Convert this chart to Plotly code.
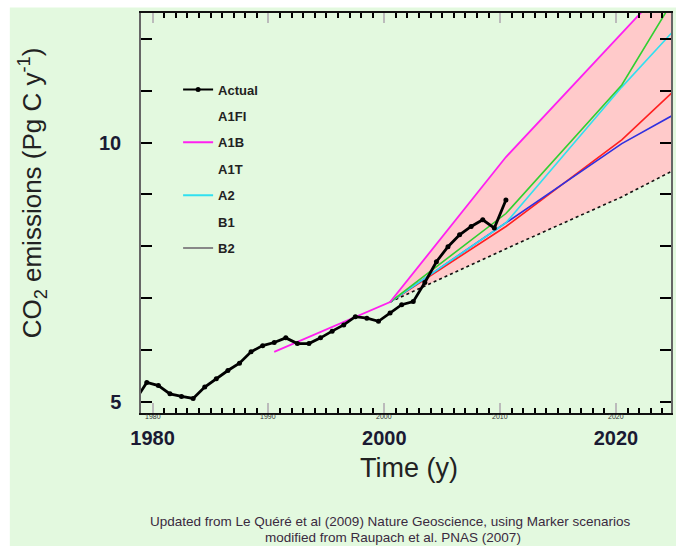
import plotly.graph_objects as go

# ---- data ----
actual_years = [1978, 1979, 1980, 1981, 1982, 1983, 1984, 1985, 1986, 1987, 1988, 1989,
                1990, 1991, 1992, 1993, 1994, 1995, 1996, 1997, 1998, 1999, 2000, 2001,
                2002, 2003, 2004, 2005, 2006, 2007, 2008, 2009, 2010]
actual_vals = [5.02, 5.37, 5.31, 5.15, 5.10, 5.06, 5.28, 5.44, 5.60, 5.74, 5.96, 6.08,
               6.14, 6.23, 6.12, 6.12, 6.23, 6.36, 6.48, 6.64, 6.61, 6.55, 6.71, 6.87,
               6.93, 7.30, 7.70, 7.99, 8.22, 8.38, 8.51, 8.35, 8.89]

scen_years = [1990, 2000, 2010, 2020, 2030]
a1b = [5.96, 6.92, 9.72, 12.12, 14.50]
a1fi = [None, 6.92, 8.63, 11.11, 14.80]
a2 = [None, 6.92, 8.45, 11.07, 13.50]
a1t = [None, 6.92, 8.38, 10.05, 12.15]
b1 = [None, 6.92, 8.45, 9.98, 11.22]
b2 = [None, 6.92, 7.95, 8.95, 10.10]

x_major = [1980, 1990, 2000, 2010, 2020]
x_major_text = ["<b>1980</b>", " ", "<b>2000</b>", " ", "<b>2020</b>"]
y_major = [5, 10]
y_major_text = ["<b>5</b>", "<b>10</b>"]

MID = 0.5  # annual values plotted at mid-year

BG = "#E3F9DF"
fig = go.Figure()

def mx(years):
    return [y + MID for y in years]

# fan fill between A1B (upper) and B2 (lower), from 2000
fx = [y + MID for y, v in zip(scen_years, b2) if v is not None]
fy_lo = [v for v in b2 if v is not None]
fy_hi = [h for h, v in zip(a1b, b2) if v is not None]
fig.add_trace(go.Scatter(x=fx + fx[::-1], y=fy_hi + fy_lo[::-1], fill="toself",
                         fillcolor="#FFCACA", line=dict(width=0), mode="lines",
                         showlegend=False, hoverinfo="skip"))

def legend_dummy(name, color):
    fig.add_trace(go.Scatter(x=[None], y=[None], mode="lines", name="<b>%s</b>" % name,
                             line=dict(color=color, width=2), legendgroup=name))

# scenario lines
fig.add_trace(go.Scatter(x=mx(scen_years), y=b2, mode="lines", line=dict(color="#111", width=1.6, dash="dot"),
                         showlegend=False))
fig.add_trace(go.Scatter(x=mx(scen_years), y=a1t, mode="lines", line=dict(color="#FF2020", width=1.6),
                         showlegend=False))
fig.add_trace(go.Scatter(x=mx(scen_years), y=b1, mode="lines", line=dict(color="#3030E0", width=1.6),
                         showlegend=False))
fig.add_trace(go.Scatter(x=mx(scen_years), y=a2, mode="lines", line=dict(color="#30E0F0", width=1.6),
                         showlegend=False))
fig.add_trace(go.Scatter(x=mx(scen_years), y=a1fi, mode="lines", line=dict(color="#30D030", width=1.6),
                         showlegend=False))
fig.add_trace(go.Scatter(x=mx(scen_years), y=a1b, mode="lines", line=dict(color="#FF20F0", width=1.8),
                         showlegend=False))

# actual
fig.add_trace(go.Scatter(x=mx(actual_years), y=actual_vals, mode="lines+markers",
                         line=dict(color="black", width=2.8),
                         marker=dict(color="black", size=5),
                         showlegend=False))

# legend entries
fig.add_trace(go.Scatter(x=[None], y=[None], mode="lines+markers", name="<b>Actual</b>",
                         line=dict(color="black", width=2), marker=dict(color="black", size=5),
                         legendgroup="Actual"))
legend_dummy("A1FI", "rgba(0,0,0,0)")
legend_dummy("A1B", "#FF20F0")
legend_dummy("A1T", "rgba(0,0,0,0)")
legend_dummy("A2", "#30E0F0")
legend_dummy("B1", "rgba(0,0,0,0)")
legend_dummy("B2", "#888888")

fig.update_layout(
    width=676, height=546,
    margin=dict(l=141, r=3, t=13, b=133),
    paper_bgcolor=BG, plot_bgcolor=BG,
    font=dict(family="Arial, Liberation Sans, sans-serif", color="#1a1a33"),
    legend=dict(x=0.07, y=0.846, xanchor="left", yanchor="top", bgcolor="rgba(0,0,0,0)",
                font=dict(size=13, color="#222"), tracegroupgap=6.5, itemwidth=30,
                traceorder="grouped"),
    xaxis=dict(range=[1979.0, 2024.75], showgrid=False, zeroline=False,
               tickmode="array", tickvals=x_major, ticktext=x_major_text,
               ticks="inside", ticklen=10, tickcolor="#bbbbbb", tickwidth=2,
               minor=dict(dtick=1, ticks="inside", ticklen=5, tickcolor="black", tickwidth=1.5),
               showline=True, linecolor="#111", linewidth=2, mirror="ticks",
               tickfont=dict(size=20, color="#1a1a33"), ticklabelstandoff=6),
    yaxis=dict(range=[4.78, 12.5], showgrid=False, zeroline=False,
               tickmode="array", tickvals=y_major, ticktext=y_major_text,
               ticks="inside", ticklen=11, tickcolor="black", tickwidth=1.5,
               minor=dict(dtick=1, ticks="inside", ticklen=11, tickcolor="black", tickwidth=1.5),
               showline=True, linecolor="#666", linewidth=1.5, mirror="ticks",
               tickfont=dict(size=20, color="#1a1a33"), ticklabelstandoff=14),
)

# white border strips (top and left of the image)
fig.add_shape(type="rect", xref="paper", yref="paper", x0=-0.3, x1=1.05, y0=1.0135, y1=1.05,
              fillcolor="white", line=dict(width=0), layer="above")
fig.add_shape(type="rect", xref="paper", yref="paper", x0=-0.3, x1=-0.2475, y0=-0.4, y1=1.05,
              fillcolor="white", line=dict(width=0), layer="above")

# tiny decade labels just under the axis
for d in x_major:
    fig.add_annotation(x=d, y=0, xref="x", yref="paper", yshift=-9, text=str(d),
                       showarrow=False, font=dict(size=7, color="#333"))

# y title
fig.add_annotation(x=-0.205, y=0.55, xref="paper", yref="paper", textangle=-90,
                   xanchor="center", yanchor="middle",
                   text="CO<sub>2</sub> emissions (Pg C y<sup>-1</sup>)", showarrow=False,
                   font=dict(size=26, color="#222"))
# x title
fig.add_annotation(x=0.505, y=-0.1375, xref="paper", yref="paper", xanchor="center", yanchor="middle",
                   text="Time (y)", showarrow=False, font=dict(size=27, color="#222"))
# caption
fig.add_annotation(x=0.47, y=-0.27, xref="paper", yref="paper", xanchor="center", yanchor="middle",
                   text="Updated from Le Quéré et al (2009) Nature Geoscience, using Marker scenarios",
                   showarrow=False, font=dict(size=13.5, color="#3a2a40"))
fig.add_annotation(x=0.475, y=-0.31, xref="paper", yref="paper", xanchor="center", yanchor="middle",
                   text="modified from Raupach et al. PNAS (2007)",
                   showarrow=False, font=dict(size=13.5, color="#3a2a40"))

fig.write_html("out.html", config={"displayModeBar": False},
               post_script="document.body.style.margin='0';document.body.style.overflow='hidden';")
